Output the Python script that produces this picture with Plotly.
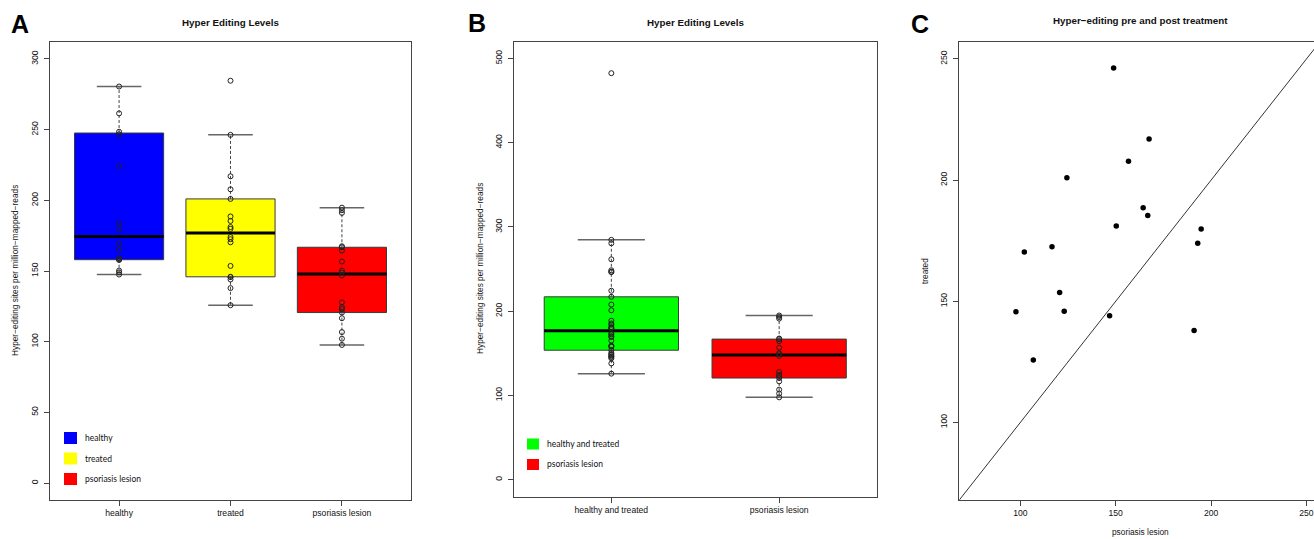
import numpy as np
import plotly.graph_objects as go

# ---------------- data ----------------
categories_a = ["healthy", "treated", "psoriasis lesion"]
categories_b = ["healthy and treated", "psoriasis lesion"]

healthy = [482.4, 280.5, 261.5, 248.5, 246.7, 224.2, 183.8, 179.4,
           169.3, 165.0, 159.0, 158.2, 157.8, 150.3, 149.0, 147.5]
# paired samples: psoriasis lesion (pre) and treated (post)
psoriasis = [148.9, 167.5, 156.7, 124.4, 164.4, 166.8, 150.3, 194.8, 193.0,
             116.6, 102.1, 120.6, 97.7, 123.0, 146.8, 191.1, 106.8, 127.8]
treated = [246.3, 217.0, 207.8, 201.0, 188.6, 185.4, 181.1, 179.8, 174.0,
           172.5, 170.3, 153.6, 145.7, 145.9, 144.0, 137.9, 125.8, 284.6]

yticks_a = [0, 50, 100, 150, 200, 250, 300]
yticks_b = [0, 100, 200, 300, 400, 500]
ticks_c = [100, 150, 200, 250]
ylim_a = [0, 300]
ylim_b = [0, 500]
lim_c = [75, 250]

colors_a = ["#0000FF", "#FFFF00", "#FF0000"]
colors_b = ["#00FF00", "#FF0000"]

# ---------------- helpers ----------------
W, H = 1314, 539
FONT = "Liberation Sans, Arial, Helvetica, sans-serif"


def fx(p):
    return p / W


def fy(p):
    return 1 - p / H


def extend(lim, frac=0.04):
    d = (lim[1] - lim[0]) * frac
    return [lim[0] - d, lim[1] + d]


def fivenum(v):
    x = np.sort(np.asarray(v, float))
    n = len(x)
    n4 = np.floor((n + 3) / 2) / 2
    d = np.array([1, n4, (n + 1) / 2, n + 1 - n4, n]) - 1
    return 0.5 * (x[np.floor(d).astype(int)] + x[np.ceil(d).astype(int)])


def box_stats(v):
    f = fivenum(v)
    iqr = f[3] - f[1]
    lo = min(x for x in v if x >= f[1] - 1.5 * iqr)
    hi = max(x for x in v if x <= f[3] + 1.5 * iqr)
    return f[1], f[2], f[3], lo, hi


fig = go.Figure()


def add_box(values, pos, color, xa, ya, width=0.8):
    q1, med, q3, lo, hi = box_stats(values)
    half, cap = width / 2, width / 4
    common = dict(xaxis=xa, yaxis=ya, hoverinfo="skip", showlegend=False)
    fig.add_trace(go.Scatter(
        x=[pos - half, pos + half, pos + half, pos - half, pos - half],
        y=[q1, q1, q3, q3, q1], mode="lines", fill="toself", fillcolor=color,
        line=dict(color="#3a3a3a", width=1), **common))
    fig.add_trace(go.Scatter(
        x=[pos, pos, None, pos, pos], y=[q3, hi, None, q1, lo], mode="lines",
        line=dict(color="#444444", width=1, dash="3px,2px"), **common))
    fig.add_trace(go.Scatter(
        x=[pos - cap, pos + cap, None, pos - cap, pos + cap],
        y=[hi, hi, None, lo, lo], mode="lines",
        line=dict(color="#666666", width=1.5), **common))
    fig.add_trace(go.Scatter(
        x=[pos - half, pos + half], y=[med, med], mode="lines",
        line=dict(color="black", width=3), **common))
    fig.add_trace(go.Scatter(
        x=[pos] * len(values), y=values, mode="markers",
        marker=dict(symbol="circle-open", size=5, color="#222222",
                    line=dict(width=1)), **common))


# Panel A
groups_a = [healthy, treated, psoriasis]
for i, (vals, col) in enumerate(zip(groups_a, colors_a)):
    add_box(vals, i + 1, col, "x", "y")

# Panel B
groups_b = [healthy + treated, psoriasis]
for i, (vals, col) in enumerate(zip(groups_b, colors_b)):
    add_box(vals, i + 1, col, "x2", "y2")

# Panel C
rng_c = extend(lim_c)
fig.add_trace(go.Scatter(x=rng_c, y=rng_c, mode="lines",
                         line=dict(color="#333333", width=1),
                         xaxis="x3", yaxis="y3", showlegend=False,
                         hoverinfo="skip"))
fig.add_trace(go.Scatter(x=psoriasis, y=treated, mode="markers",
                         marker=dict(size=5.5, color="black"),
                         xaxis="x3", yaxis="y3", showlegend=False))

# ---------------- axes ----------------
tickfont = dict(family=FONT, size=8.6, color="#111111")
axis_common = dict(showgrid=False, zeroline=False, showline=True,
                   linecolor="#444444", linewidth=1, ticks="outside",
                   ticklen=5, tickcolor="#444444", tickwidth=1,
                   tickfont=tickfont)

xr_a = extend([0.5, len(categories_a) + 0.5])
xr_b = extend([0.5, len(categories_b) + 0.5])

# visible part of panel C's x range (plot is cut by the right edge)
c_left, c_full_w = 959.3, 360.5
c_vis = (W - c_left) / c_full_w
xr_c = [rng_c[0], rng_c[0] + (rng_c[1] - rng_c[0]) * c_vis]

fig.update_layout(
    xaxis=dict(domain=[fx(50), fx(411)], range=xr_a, anchor="y",
               tickvals=list(range(1, len(categories_a) + 1)),
               ticktext=categories_a, mirror=True, **axis_common),
    yaxis=dict(domain=[fy(500), fy(42)], range=extend(ylim_a), anchor="x",
               tickvals=yticks_a, tickangle=-90, mirror=True,
               ticklabelstandoff=3, **axis_common),
    xaxis2=dict(domain=[fx(514), fx(876.5)], range=xr_b, anchor="y2",
                tickvals=list(range(1, len(categories_b) + 1)),
                ticktext=categories_b, mirror=True, **axis_common),
    yaxis2=dict(domain=[fy(496.5), fy(41.5)], range=extend(ylim_b),
                anchor="x2", tickvals=yticks_b, tickangle=-90, mirror=True,
                ticklabelstandoff=3, **axis_common),
    xaxis3=dict(domain=[fx(c_left), 1.0], range=xr_c, anchor="y3",
                tickvals=ticks_c, mirror=True, **axis_common),
    yaxis3=dict(domain=[fy(500), fy(42)], range=rng_c, anchor="x3",
                tickvals=ticks_c, tickangle=-90, mirror=False,
                ticklabelstandoff=3, **axis_common),
)

# ---------------- text ----------------
ann = []


def text(x, y, s, size=8.3, bold=False, angle=0, xanchor="center",
         family=FONT, color="#111111"):
    ann.append(dict(x=fx(x), y=fy(y), xref="paper", yref="paper",
                    text=f"<b>{s}</b>" if bold else s, showarrow=False,
                    textangle=angle, xanchor=xanchor, yanchor="middle",
                    font=dict(family=family, size=size, color=color)))


text(20, 23.5, "A", size=25, bold=True, color="black")
text(477, 23, "B", size=25, bold=True, color="black")
text(920, 24, "C", size=25, bold=True, color="black")

text(230.5, 22, "Hyper Editing Levels", size=9.8, bold=True)
text(695, 22, "Hyper Editing Levels", size=9.8, bold=True)
text(1140, 20.5, "Hyper−editing pre and post treatment", size=9.8, bold=True)

text(15, 271, "Hyper−editing sites per million−mapped−reads", angle=-90)
text(480, 269, "Hyper−editing sites per million−mapped−reads", angle=-90)
text(925, 271, "treated", angle=-90)
text(1140, 532, "psoriasis lesion")

# legends (drawn as small filled squares with labels)
shapes = []
LEGEND_FONT = "Lato, Open Sans, sans-serif"
for lab, col, yc in zip(categories_a, colors_a, [438, 458.5, 479]):
    shapes.append(dict(type="rect", xref="paper", yref="paper",
                       x0=fx(64), x1=fx(77), y0=fy(yc + 6), y1=fy(yc - 6),
                       fillcolor=col, line=dict(width=0)))
    text(83, yc, lab, size=8.5, xanchor="left", family=LEGEND_FONT)
for lab, col, yc in zip(categories_b, colors_b, [444, 464.5]):
    shapes.append(dict(type="rect", xref="paper", yref="paper",
                       x0=fx(527), x1=fx(539), y0=fy(yc + 5.5),
                       y1=fy(yc - 5.5), fillcolor=col, line=dict(width=0)))
    text(545, yc - 0.5, lab, size=8.5, xanchor="left", family=LEGEND_FONT)

fig.update_layout(
    width=W, height=H, margin=dict(l=0, r=0, t=0, b=0),
    paper_bgcolor="white", plot_bgcolor="white",
    annotations=ann, shapes=shapes, showlegend=False,
    font=dict(family=FONT),
)

fig.write_html(
    "out.html",
    config={"displayModeBar": False},
    post_script="document.body.style.margin='0px';"
                "document.body.style.overflow='hidden';",
)
